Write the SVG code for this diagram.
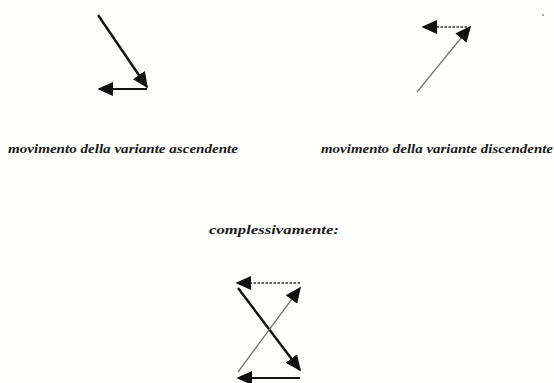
<svg xmlns="http://www.w3.org/2000/svg" width="554" height="383" viewBox="0 0 554 383">
<defs>
<marker id="ahb" viewBox="0 0 10 10" refX="9" refY="5" markerWidth="16" markerHeight="16" markerUnits="userSpaceOnUse" orient="auto"><path d="M0,0.5 L10,5 L0,9.5 Z" fill="#111"/></marker>
</defs>
<style>
.thick{stroke:#111;stroke-width:2.4;fill:none}
.thin{stroke:#777;stroke-width:1.3;fill:none}
.dash{stroke:#666;stroke-width:2.2;stroke-dasharray:2.5,1.5;fill:none}
.solid{stroke:#111;stroke-width:2.2;fill:none}
text{font-family:"Liberation Serif","Times New Roman",serif;font-style:italic;font-weight:bold;fill:#1a1a1a}
</style>
<rect width="554" height="383" fill="#fefefc"/>
<g id="connectors">
<line class="thick" x1="98" y1="15" x2="147" y2="87" marker-end="url(#ahb)"/>
<line class="solid" x1="147" y1="89" x2="99" y2="89" marker-end="url(#ahb)"/>
<line class="thin" x1="417" y1="92" x2="470" y2="27" marker-end="url(#ahb)"/>
<line class="dash" x1="467" y1="27" x2="423" y2="27" marker-end="url(#ahb)"/>
<line class="dash" x1="300" y1="283" x2="237" y2="283" marker-end="url(#ahb)"/>
<line class="thick" x1="238" y1="288" x2="300" y2="370" marker-end="url(#ahb)"/>
<line class="thin" x1="238" y1="372" x2="300" y2="288" marker-end="url(#ahb)"/>
<line class="solid" x1="300" y1="378" x2="238" y2="378" marker-end="url(#ahb)"/>
</g>
<g id="labels">
<text x="8" y="153" font-size="12.5" textLength="230" lengthAdjust="spacingAndGlyphs">movimento della variante ascendente</text>
<text x="321" y="153" font-size="12.5" textLength="232" lengthAdjust="spacingAndGlyphs">movimento della variante discendente</text>
<text x="209" y="234" font-size="13" textLength="130" lengthAdjust="spacingAndGlyphs">complessivamente:</text>
</g>
<circle cx="543" cy="15" r="1" fill="#888"/>
</svg>
